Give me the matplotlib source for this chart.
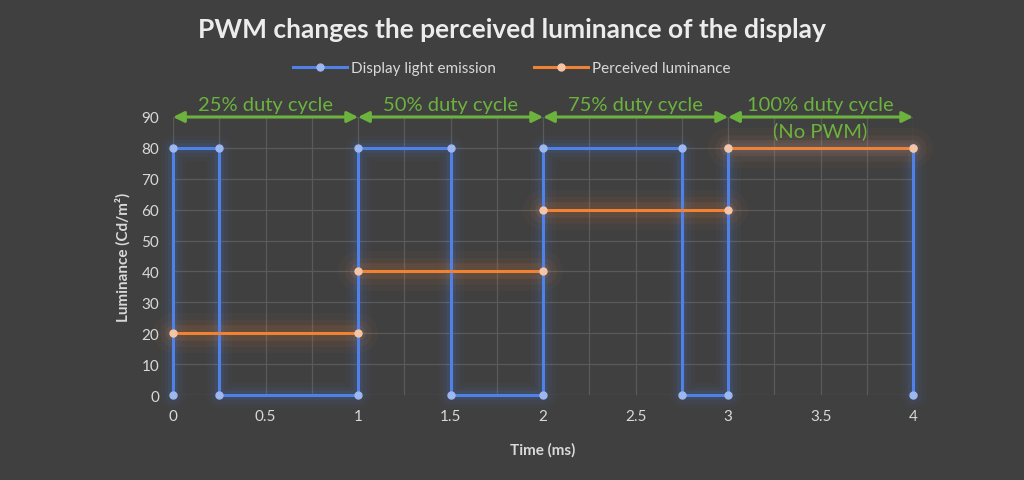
import numpy as np
import matplotlib.pyplot as plt

plt.rcParams['font.family'] = ['Lato', 'DejaVu Sans']

# display light emission (square wave)
emit_t = [0, 0, 0.25, 0.25, 1, 1, 1.5, 1.5, 2, 2, 2.75, 2.75, 3, 3, 4, 4]
emit_y = [0, 80, 80, 0, 0, 80, 80, 0, 0, 80, 80, 0, 0, 80, 80, 0]

# perceived luminance, one flat level per cycle
cycle_start = [0, 1, 2, 3]
cycle_end = [1, 2, 3, 4]
perceived = [20, 40, 60, 80]
cycle_labels = ['25% duty cycle', '50% duty cycle', '75% duty cycle', '100% duty cycle\n(No PWM)']

bg = '#404040'
txt = '#d9d9d9'
blue = '#4f81e8'
orange = '#f08236'
green = '#6cb33e'

fig = plt.figure(figsize=(10.24, 4.81), dpi=100, facecolor=bg)
ax = fig.add_axes([0.169, 0.1767, 0.7227, 0.578])
ax.set_facecolor(bg)

# glow
for w, a in [(18, 0.04), (12, 0.06), (7, 0.1)]:
    ax.plot(emit_t, emit_y, color=blue, lw=w, alpha=a, solid_capstyle='round', zorder=2)
    for s, e, v in zip(cycle_start, cycle_end, perceived):
        ax.plot([s, e], [v, v], color=orange, lw=w * 1.6, alpha=a, solid_capstyle='round', zorder=3)

ax.plot(emit_t, emit_y, color=blue, lw=2.2, marker='o', ms=5,
        mfc='#9db8f0', mec='#9db8f0', zorder=4, label='Display light emission')
for i, (s, e, v) in enumerate(zip(cycle_start, cycle_end, perceived)):
    ax.plot([s, e], [v, v], color=orange, lw=2.2, marker='o', ms=5,
            mfc='#f6c5a6', mec='#f6c5a6', zorder=5,
            label='Perceived luminance' if i == 0 else None)

# duty cycle arrows
for s, e, lab in zip(cycle_start, cycle_end, cycle_labels):
    ax.annotate('', xy=(s, 90), xytext=(e, 90),
                arrowprops=dict(arrowstyle='<|-|>', color=green, lw=2.2,
                                mutation_scale=16, shrinkA=0, shrinkB=0), zorder=6)
    lines = lab.split('\n')
    ax.text((s + e) / 2, 91.2, lines[0], ha='center', va='bottom', color=green, fontsize=14.5)
    if len(lines) > 1:
        ax.text((s + e) / 2, 88.5, lines[1], ha='center', va='top', color=green, fontsize=14.5)

ax.set_xlim(0, 4)
ax.set_ylim(0, 90)
ax.set_xticks(np.arange(0, 4.01, 0.5))
ax.set_xticklabels(['0', '0.5', '1', '1.5', '2', '2.5', '3', '3.5', '4'])
ax.set_xticks(np.arange(0, 4.01, 0.25), minor=True)
ax.set_yticks(np.arange(0, 91, 10))
ax.grid(True, which='both', color='#5a5a5a', lw=0.9, zorder=0)
ax.tick_params(colors=txt, labelsize=11, length=0, pad=10)
ax.tick_params(which='minor', length=0)
for sp in ax.spines.values():
    sp.set_visible(False)
for ln in ax.lines:
    ln.set_clip_on(False)

ax.set_xlabel('Time (ms)', color=txt, fontsize=11, fontweight='bold', labelpad=14)
ax.set_ylabel('Luminance (Cd/m²)', color=txt, fontsize=11, fontweight='bold', labelpad=8)

fig.suptitle('PWM changes the perceived luminance of the display', y=0.962,
             color='#ececec', fontsize=19, fontweight='bold')
leg = fig.legend(loc='upper center', bbox_to_anchor=(0.5, 0.9), ncol=2, frameon=False,
                 fontsize=11, labelcolor=txt, handlelength=3.5, columnspacing=2.5, handletextpad=0.3)

fig.savefig('out.png', dpi=100, facecolor=bg)
